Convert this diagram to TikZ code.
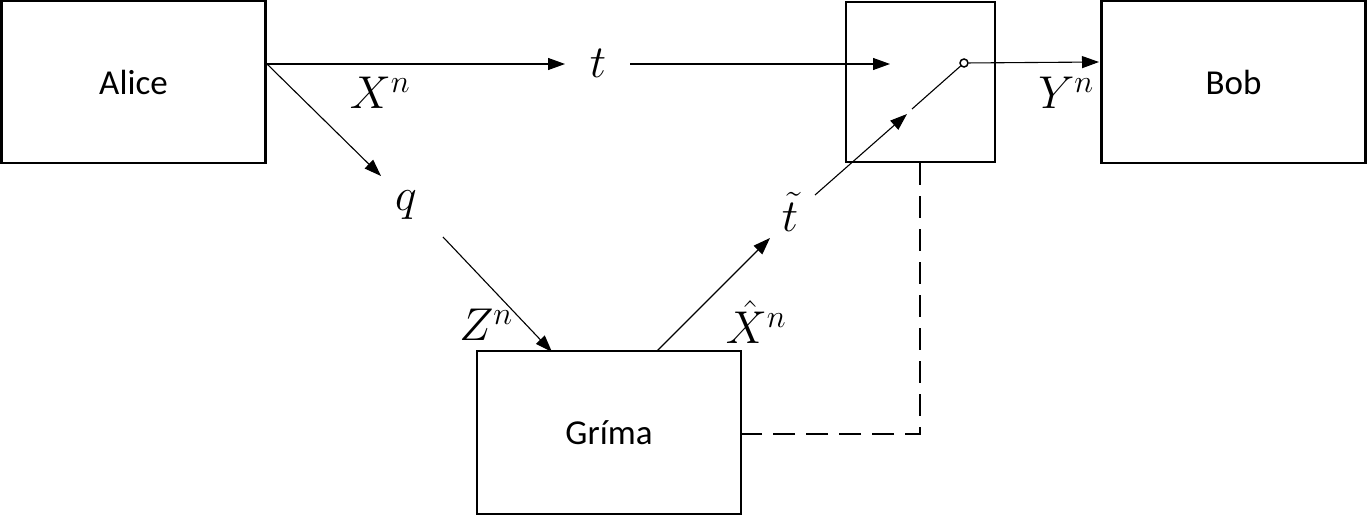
\RequirePackage{fix-cm}
\documentclass[tikz,border=0pt]{standalone}
\usepackage{fontspec}
\setmainfont{Carlito}
\usetikzlibrary{arrows.meta}
\begin{document}
\begin{tikzpicture}[x=1pt,y=-1pt,
  box/.style={draw,line width=2.2pt,inner sep=0pt,font=\fontsize{35}{35}\selectfont},
  lbl/.style={inner sep=0pt,font=\fontsize{46}{46}\selectfont},
  conn/.style={line width=1.1pt,-{Triangle[length=17pt,width=12pt]}},
  plain/.style={line width=1.1pt},
  dashline/.style={line width=2.8pt,dash pattern=on 22pt off 11pt}]
\useasboundingbox (0,0) rectangle (1367,516);
\node[box,minimum width=264pt,minimum height=162pt] (alice) at (133.5,82) {Alice};
\node[box,minimum width=149pt,minimum height=160pt] (sw) at (920.5,82) {};
\node[box,minimum width=264pt,minimum height=162pt] (bob) at (1233.5,82) {Bob};
\node[box,minimum width=264pt,minimum height=163pt] (grima) at (609,432.5) {Gríma};
% labels
\node[lbl] (t) at (598,63) {$t$};
\node[lbl] (q) at (406,205) {$q$};
\node[lbl] (tt) at (790,212) {$\tilde{t}$};
\node[lbl] (xn) at (380,93) {$X^{n}$};
\node[lbl] (yn) at (1066,93) {$Y^{n}$};
\node[lbl] (zn) at (486,325) {$Z^{n}$};
\node[lbl] (xh) at (756,322) {$\hat{X}^{n}$};
% coordinates
\coordinate (aout) at (267,64);
\coordinate (tin) at (565,64);
\coordinate (tout) at (630,64);
\coordinate (swin) at (890,64);
\coordinate (qin) at (381,176);
\coordinate (qout) at (443,237);
\coordinate (gin) at (552,352);
\coordinate (gout) at (657,351);
\coordinate (ttin) at (770,238);
\coordinate (ttout) at (815,195);
\coordinate (swarr) at (907,114);
\coordinate (swcont) at (912,109);
\node[circle,draw,line width=1.5pt,inner sep=0pt,minimum size=8pt,fill=white] (pole) at (964,63) {};
\coordinate (bin) at (1099,62);
\coordinate (dtop) at (920,163);
\coordinate (dcorner) at (920,434);
\coordinate (gright) at (742,434);
% connectors
\draw[conn] (aout) -- (tin);
\draw[conn] (tout) -- (swin);
\draw[conn] (aout) -- (qin);
\draw[conn] (qout) -- (gin);
\draw[conn] (gout) -- (ttin);
\draw[conn] (ttout) -- (swarr);
\draw[plain] (swcont) -- (pole);
\draw[conn] (pole) -- (bin);
\draw[dashline] (dtop) -- (dcorner) -- (gright);
\end{tikzpicture}
\end{document}
